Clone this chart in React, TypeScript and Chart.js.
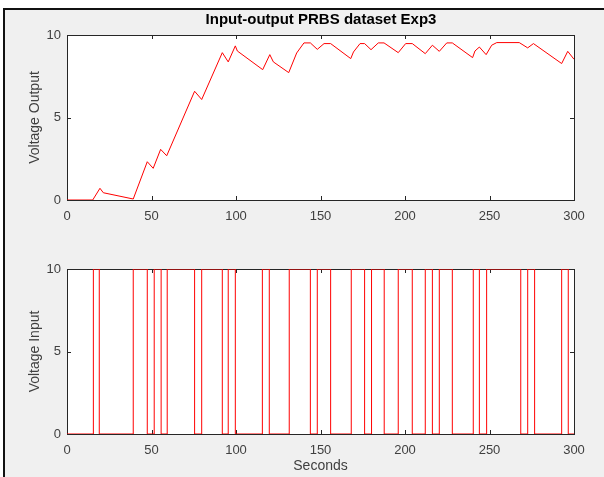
import React, { useEffect, useRef } from 'react';
import { Chart, registerables } from 'chart.js';

Chart.register(...registerables);

const chartTitle = 'Input-output PRBS dataset Exp3';
const outputLabel = 'Voltage Output';
const inputLabel = 'Voltage Input';
const xLabel = 'Seconds';
const xTicks = [0, 50, 100, 150, 200, 250, 300];
const yTicks = [0, 5, 10];

const outputTimes = [
  0, 15.2, 19.5, 21.5, 39.2, 47.5, 51.0, 55.4, 59.0, 75.5, 79.7, 91.9, 95.4, 99.6, 100.8,
  115.8, 120.0, 122.1, 131.2, 135.9, 140.2, 144.0, 148.1, 152.1, 156.0, 167.9, 169.5,
  173.4, 176.1, 179.9, 184.2, 187.6, 196.0, 200.4, 204.3, 212.0, 216.2, 220.3, 224.7,
  228.0, 240.0, 241.4, 244.0, 248.0, 251.3, 254.3, 267.6, 272.6, 276.0, 292.7, 296.3, 300,
];
const outputValues = [
  0, 0, 0.71, 0.44, 0.06, 2.32, 1.92, 3.07, 2.68, 6.59, 6.09, 8.93, 8.37, 9.34, 9.03,
  7.9, 8.81, 8.37, 7.72, 8.91, 9.52, 9.52, 9.13, 9.48, 9.48, 8.57, 8.97,
  9.48, 9.48, 9.11, 9.52, 9.52, 8.93, 9.48, 9.48, 8.87, 9.38, 9.01, 9.52,
  9.52, 8.63, 9.03, 9.27, 8.81, 9.38, 9.54, 9.54, 9.22, 9.48, 8.27, 9.01, 8.53,
];

const inputTimes = [
  0, 15.6, 19.1, 39.2, 47.5, 51.6, 55.7, 59.3, 75.5, 79.7, 91.9, 95.4, 99.6, 115.6,
  119.7, 131.5, 144.0, 148.1, 156.0, 168.2, 176.1, 180.2, 187.7, 196.0, 204.3, 212.0,
  216.2, 220.3, 228.0, 240.4, 244.0, 248.3, 268.5, 272.6, 276.7, 292.7, 296.6, 300,
];
const inputValues = [
  0, 10, 0, 10, 0, 10, 0, 10, 0, 10, 0, 10, 0, 10,
  0, 10, 0, 10, 0, 10, 0, 10, 0, 10, 0, 10,
  0, 10, 0, 10, 0, 10, 0, 10, 0, 10, 0, 0,
];

const AXIS = '#262626';
const TEXT = '#404040';
const FONT = "'Liberation Sans', Arial, Helvetica, sans-serif";

const boxPlugin = {
  id: 'matlabBox',
  beforeDraw(chart: any) {
    const { ctx, chartArea: a } = chart;
    ctx.save();
    ctx.fillStyle = '#ffffff';
    ctx.fillRect(a.left, a.top, a.right - a.left, a.bottom - a.top);
    ctx.restore();
  },
  beforeDatasetsDraw(chart: any) {
    const { ctx, chartArea: a } = chart;
    const xs = chart.scales.x;
    const ys = chart.scales.y;
    const tl = 4;
    ctx.save();
    ctx.strokeStyle = AXIS;
    ctx.lineWidth = 1;
    ctx.strokeRect(a.left + 0.5, a.top + 0.5, a.right - a.left, a.bottom - a.top);
    ctx.beginPath();
    xs.ticks.forEach((t: any) => {
      const px = Math.round(xs.getPixelForValue(t.value)) + 0.5;
      ctx.moveTo(px, a.bottom);
      ctx.lineTo(px, a.bottom - tl);
      ctx.moveTo(px, a.top);
      ctx.lineTo(px, a.top + tl);
    });
    ys.ticks.forEach((t: any) => {
      const py = Math.round(ys.getPixelForValue(t.value)) + 0.5;
      ctx.moveTo(a.left, py);
      ctx.lineTo(a.left + tl, py);
      ctx.moveTo(a.right, py);
      ctx.lineTo(a.right - tl, py);
    });
    ctx.stroke();
    ctx.restore();
  },
  afterDraw(chart: any, _args: any, opts: any) {
    const { ctx, chartArea: a } = chart;
    if (opts && opts.title) {
      ctx.save();
      ctx.fillStyle = '#000000';
      ctx.font = `bold 15px ${FONT}`;
      ctx.textAlign = 'center';
      ctx.textBaseline = 'middle';
      ctx.fillText(opts.title, (a.left + a.right) / 2 + 0.5, opts.titleY);
      ctx.restore();
    }
  },
};

function makeConfig(
  times: number[],
  values: number[],
  stepped: boolean,
  yLabel: string,
  padTop: number,
  xHeight: number,
  showXLabel: boolean,
  title: string | null,
) {
  return {
    type: 'line' as const,
    data: {
      datasets: [
        {
          data: times.map((t, i) => ({ x: t, y: values[i] })),
          borderColor: '#ff0000',
          borderWidth: 1,
          pointRadius: 0,
          fill: false,
          tension: 0,
          stepped: stepped ? ('before' as const) : false,
        },
      ],
    },
    plugins: [boxPlugin],
    options: {
      responsive: false,
      animation: false as const,
      devicePixelRatio: 1,
      layout: { padding: { top: padTop, right: 30, left: 0, bottom: 0 } },
      plugins: {
        legend: { display: false },
        tooltip: { enabled: false },
        title: { display: false },
        matlabBox: { title, titleY: 20 },
      },
      scales: {
        x: {
          type: 'linear' as const,
          min: 0,
          max: 300,
          grid: { display: false, drawTicks: false },
          border: { display: false },
          afterBuildTicks: (s: any) => {
            s.ticks = xTicks.map((v) => ({ value: v }));
          },
          afterFit: (s: any) => {
            s.height = xHeight;
          },
          ticks: {
            padding: 9,
            color: TEXT,
            font: { family: FONT, size: 13 },
            maxRotation: 0,
            autoSkip: false,
          },
          title: {
            display: showXLabel,
            text: xLabel,
            color: TEXT,
            font: { family: FONT, size: 14 },
            padding: { top: 0, bottom: 2 },
          },
        },
        y: {
          type: 'linear' as const,
          min: 0,
          max: 10,
          grid: { display: false, drawTicks: false },
          border: { display: false },
          afterBuildTicks: (s: any) => {
            s.ticks = yTicks.map((v) => ({ value: v }));
          },
          afterFit: (s: any) => {
            s.width = 67;
          },
          ticks: {
            padding: 6,
            color: TEXT,
            font: { family: FONT, size: 13 },
          },
          title: {
            display: true,
            text: yLabel,
            color: TEXT,
            font: { family: FONT, size: 14 },
            padding: { top: 27, bottom: 0 },
          },
        },
      },
    },
  };
}

export default function App() {
  const topRef = useRef<HTMLCanvasElement>(null);
  const botRef = useRef<HTMLCanvasElement>(null);

  useEffect(() => {
    const c1 = new Chart(
      topRef.current as HTMLCanvasElement,
      makeConfig(outputTimes, outputValues, false, outputLabel, 35, 38, false, chartTitle) as any,
    );
    const c2 = new Chart(
      botRef.current as HTMLCanvasElement,
      makeConfig(inputTimes, inputValues, true, inputLabel, 31, 43, true, null) as any,
    );
    return () => {
      c1.destroy();
      c2.destroy();
    };
  }, []);

  return (
    <div
      style={{
        position: 'fixed',
        left: 0,
        top: 0,
        width: 604,
        height: 477,
        background: '#ffffff',
        overflow: 'hidden',
      }}
    >
      <div
        style={{
          position: 'absolute',
          left: 3,
          top: 8,
          width: 601,
          height: 469,
          boxSizing: 'border-box',
          borderTop: '2px solid #111',
          borderLeft: '2px solid #111',
          background: '#f0f0f0',
        }}
      />
      <canvas
        ref={topRef}
        width={604}
        height={238}
        style={{ position: 'absolute', left: 0, top: 0, width: 604, height: 238 }}
      />
      <canvas
        ref={botRef}
        width={604}
        height={239}
        style={{ position: 'absolute', left: 0, top: 238, width: 604, height: 239 }}
      />
    </div>
  );
}
